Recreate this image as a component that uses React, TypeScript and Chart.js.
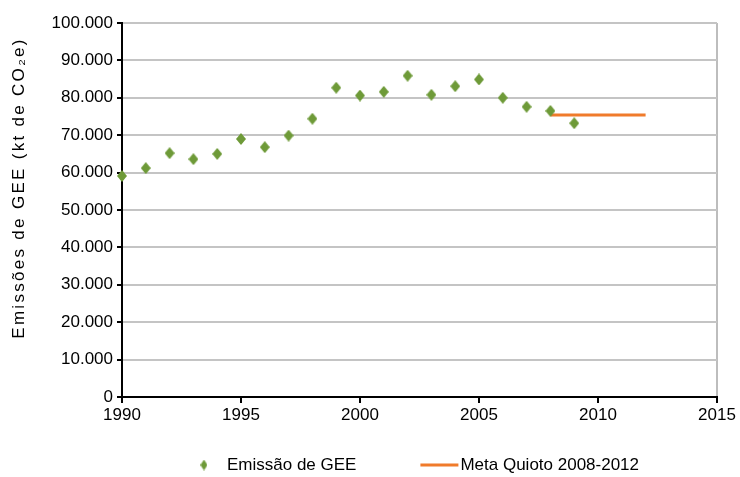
import React, { useEffect, useRef } from "react";
import { Chart, registerables } from "chart.js";

Chart.register(...registerables);

// Emissões anuais de GEE (kt CO2e)
const years = [1990, 1991, 1992, 1993, 1994, 1995, 1996, 1997, 1998, 1999, 2000, 2001, 2002, 2003, 2004, 2005, 2006, 2007, 2008, 2009];
const emissions = [59100, 61200, 65200, 63600, 65000, 69000, 66800, 69900, 74400, 82700, 80600, 81600, 85900, 80800, 83100, 84900, 80000, 77600, 76500, 73200];

// Meta de Quioto para o período 2008-2012
const targetYears = [2008, 2012];
const targetValue = 75400;

const seriesLabels = ["Emissão de GEE", "Meta Quioto 2008-2012"];
const yTitle = "Emissões de GEE (kt de CO₂e)";

const GREEN = "#6e9a38";
const ORANGE = "#f07b2b";
const FONT = "'Liberation Sans', Arial, sans-serif";

function diamond(w: number, h: number, color: string): HTMLCanvasElement {
  const c = document.createElement("canvas");
  c.width = w;
  c.height = h;
  const g = c.getContext("2d")!;
  g.fillStyle = color;
  g.beginPath();
  g.moveTo(w / 2, 0);
  g.lineTo(w, h / 2);
  g.lineTo(w / 2, h);
  g.lineTo(0, h / 2);
  g.closePath();
  g.fill();
  return c;
}

const fmtThousands = (v: number) => String(Math.round(v)).replace(/\B(?=(\d{3})+(?!\d))/g, ".");

export default function App() {
  const ref = useRef<HTMLCanvasElement>(null);

  useEffect(() => {
    document.body.style.margin = "0";
    const marker = diamond(10, 12, GREEN);
    const legendMarker = diamond(7, 11, GREEN);

    // Rotated y-axis title with wide letter spacing
    const axisTitle = {
      id: "axisTitle",
      afterDraw(chart: any) {
        const { ctx } = chart;
        ctx.save();
        ctx.translate(19, 188);
        ctx.rotate(-Math.PI / 2);
        (ctx as any).letterSpacing = "2.3px";
        ctx.font = `17px ${FONT}`;
        ctx.fillStyle = "#000";
        ctx.textAlign = "center";
        ctx.textBaseline = "middle";
        ctx.fillText(yTitle, 0, 0);
        ctx.restore();
      },
    };

    // Legend below the axis
    const bottomLegend = {
      id: "bottomLegend",
      afterDraw(chart: any) {
        const { ctx, chartArea } = chart;
        const y = 465;
        ctx.save();
        ctx.font = `17px ${FONT}`;
        ctx.textBaseline = "middle";
        ctx.fillStyle = "#000";
        const w0 = ctx.measureText(seriesLabels[0]).width;
        const w1 = ctx.measureText(seriesLabels[1]).width;
        const box0 = 8, gap0 = 19, spacing = 64, box1 = 38, gap1 = 2;
        const total = box0 + gap0 + w0 + spacing + box1 + gap1 + w1;
        let x = (chartArea.left + chartArea.right) / 2 - total / 2;
        ctx.drawImage(legendMarker, x + box0 / 2 - legendMarker.width / 2, y - legendMarker.height / 2);
        x += box0 + gap0;
        ctx.fillText(seriesLabels[0], x, y);
        x += w0 + spacing;
        ctx.strokeStyle = ORANGE;
        ctx.lineWidth = 3;
        ctx.beginPath();
        ctx.moveTo(x, y);
        ctx.lineTo(x + box1, y);
        ctx.stroke();
        x += box1 + gap1;
        ctx.fillText(seriesLabels[1], x, y);
        ctx.restore();
      },
    };

    const chart = new Chart(ref.current!, {
      type: "scatter",
      data: {
        datasets: [
          {
            label: seriesLabels[0],
            data: years.map((x, i) => ({ x, y: emissions[i] })),
            pointStyle: marker as any,
            pointRadius: 6,
            backgroundColor: GREEN,
            borderColor: GREEN,
            clip: false as any,
          },
          {
            type: "line" as any,
            label: seriesLabels[1],
            data: targetYears.map((x) => ({ x, y: targetValue })),
            borderColor: ORANGE,
            backgroundColor: ORANGE,
            borderWidth: 3,
            pointRadius: 0,
            showLine: true,
          },
        ],
      },
      options: {
        responsive: false,
        animation: false,
        layout: { padding: { top: 23, right: 23, bottom: 50, left: 0 } },
        plugins: { legend: { display: false }, tooltip: { enabled: false } },
        scales: {
          x: {
            type: "linear",
            min: 1990,
            max: 2015,
            ticks: {
              stepSize: 5,
              color: "#000",
              padding: 2,
              maxRotation: 0,
              font: { family: FONT, size: 17 },
              callback: (v: any) => String(v),
            },
            grid: {
              color: (c: any) => (c.tick && c.tick.value === 2015 ? "#bdbdbd" : "rgba(0,0,0,0)"),
              tickColor: "#000",
              tickLength: 6,
              lineWidth: 2,
            },
            border: { color: "#000", width: 2 },
            afterFit: (s: any) => {
              s.height = 30;
            },
          },
          y: {
            min: 0,
            max: 100000,
            ticks: {
              stepSize: 10000,
              color: "#000",
              padding: 4,
              font: { family: FONT, size: 17 },
              callback: (v: any) => fmtThousands(v),
            },
            grid: {
              color: "#c4c4c4",
              tickColor: "#000",
              tickLength: 5,
              lineWidth: 2,
            },
            border: { color: "#000", width: 2 },
            afterFit: (s: any) => {
              s.width = 122;
            },
          },
        },
      },
      plugins: [axisTitle, bottomLegend],
    });
    return () => chart.destroy();
  }, []);

  return (
    <div style={{ width: 740, height: 477 }}>
      <canvas ref={ref} width={740} height={477} />
    </div>
  );
}
